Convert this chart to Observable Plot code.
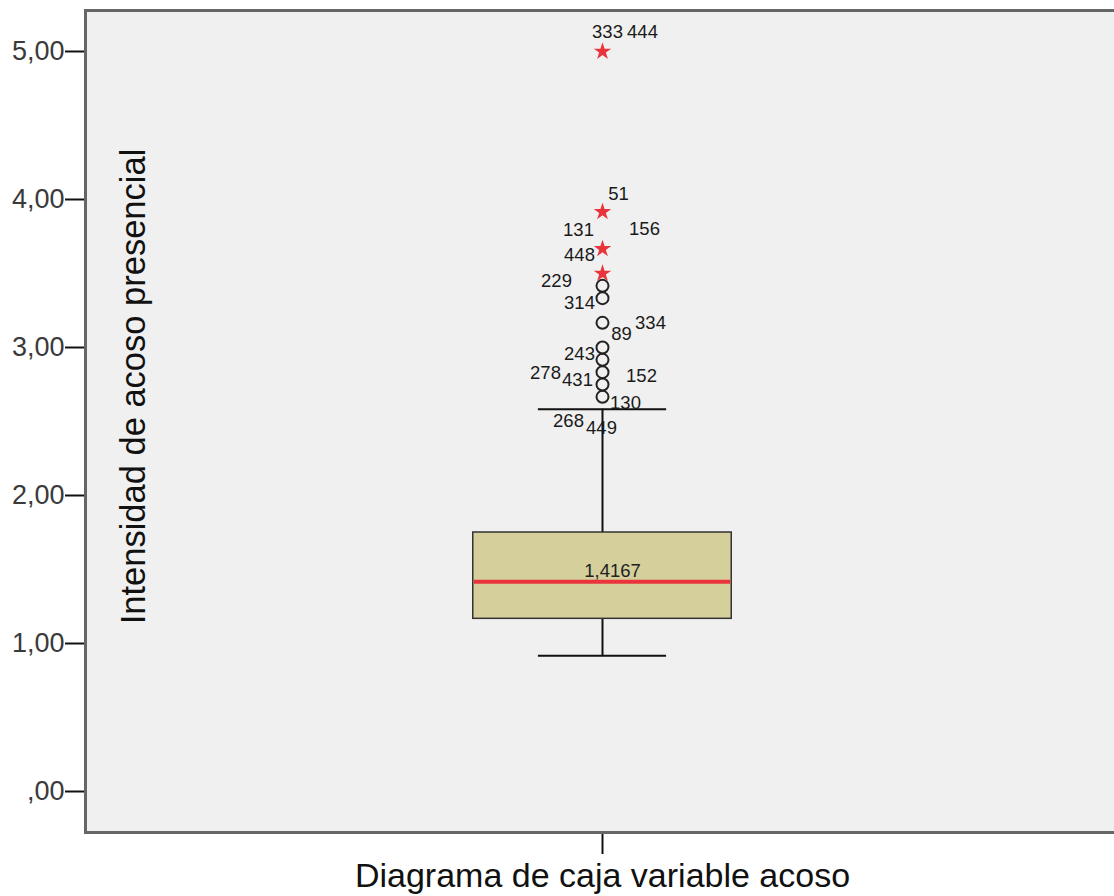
<!DOCTYPE html>
<html>
<head>
<meta charset="utf-8">
<script src="https://cdn.jsdelivr.net/npm/d3@7"></script>
<script src="https://cdn.jsdelivr.net/npm/@observablehq/plot@0.6"></script>
<style>
  html, body { margin: 0; padding: 0; background: #ffffff; }
  #chart svg { display: block; }
</style>
</head>
<body>
<div id="chart"></div>
<script>
// ---- Data ----
const yTitle = "Intensidad de acoso presencial";
const xTitle = "Diagrama de caja variable acoso";
const yTicks = [0, 1, 2, 3, 4, 5];

const q1 = 1.1667;
const median = 1.4167;
const q3 = 1.75;
const whiskerLow = 0.9167;
const whiskerHigh = 2.5833;
const medianLabel = "1,4167";

const outlierValues = [3.4167, 3.3333, 3.1667, 3.0, 2.9167, 2.8333, 2.75, 2.6667];
const extremeValues = [5.0, 3.9167, 3.6667, 3.5];

const caseLabels = ["333", "444", "51", "131", "156", "448", "229", "314", "89", "334", "243", "278", "431", "152", "130", "268", "449"];
const caseValues = [5.0, 5.0, 3.9167, 3.6667, 3.6667, 3.6667, 3.4167, 3.3333, 3.1667, 3.1667, 3.0, 2.8333, 2.8333, 2.8333, 2.6667, 2.5833, 2.5833];

// ---- Layout (label offsets in px, not data) ----
const labelOffsets = [
  [5, -19], [40, -19], [16, -18], [-24, -19], [42, -20], [-23, 6], [-46, -5], [-23, 5],
  [19, 11], [48, 0], [-23, 7], [-57, 1], [-25, 8], [39, 4], [23, 6], [-34, 12], [-1, 19]
];

const font = "'Liberation Sans', Arial, sans-serif";
const boxHalf = 0.25;
const capHalf = 0.124;
const red = "#e8343a";

const fmt = d => d3.format(".2f")(d).replace(".", ",").replace(/^0/, "");

const marks = [
  Plot.frame({fill: "#f0f0f0"}),
  // whiskers
  Plot.ruleX([{a: q3, b: whiskerHigh}, {a: whiskerLow, b: q1}], {x: () => 0, y1: "a", y2: "b", stroke: "#111", strokeWidth: 2}),
  Plot.ruleY([whiskerLow, whiskerHigh], {y: d => d, x1: () => -capHalf, x2: () => capHalf, stroke: "#111", strokeWidth: 2}),
  // box
  Plot.rect([{q1, q3}], {x1: () => -boxHalf, x2: () => boxHalf, y1: "q1", y2: "q3", fill: "#d4cf9b", stroke: "#333", strokeWidth: 1.5}),
  Plot.ruleY([median], {y: d => d, x1: () => -boxHalf + 0.002, x2: () => boxHalf - 0.002, stroke: red, strokeWidth: 4}),
  Plot.text([median], {y: d => d, x: () => 0, text: () => medianLabel, dx: 10, dy: -11, fontSize: 18.5, fill: "#222", fontFamily: font}),
  // outliers
  Plot.dot(outlierValues, {y: d => d, x: () => 0, r: 6, stroke: "#222", strokeWidth: 2, fill: "none"}),
  Plot.dot(extremeValues, {y: d => d, x: () => 0, symbol: "star", r: 5.5, fill: red, stroke: "none"}),
  // case labels
  ...caseLabels.map((lab, i) => Plot.text([caseValues[i]], {
    y: d => d, x: () => 0, text: () => lab,
    dx: labelOffsets[i][0], dy: labelOffsets[i][1],
    fontSize: 18.5, fill: "#1a1a1a", fontFamily: font
  })),
  // axes
  Plot.axisY({ticks: yTicks, tickFormat: fmt, tickSize: 20, tickPadding: 1, fontSize: 27, fill: "#3a3a3a", stroke: "#111", strokeWidth: 2, label: null, fontFamily: font}),
  Plot.axisX({ticks: [0], tickFormat: () => "", tickSize: 22, stroke: "#111", strokeWidth: 2, label: null}),
  // titles
  Plot.text([yTitle], {frameAnchor: "left", textAnchor: "middle", text: d => d, rotate: -90, dx: 48, dy: -35, fontSize: 34.5, fill: "#111", fontFamily: font}),
  Plot.text([xTitle], {frameAnchor: "bottom", x: () => 0, text: d => d, dy: 54, fontSize: 34, fill: "#111", fontFamily: font}),
  Plot.frame({stroke: "#666", strokeWidth: 3})
];

const chart = Plot.plot({
  width: 1114,
  height: 896,
  marginLeft: 85,
  marginRight: -5,
  marginTop: 10,
  marginBottom: 64,
  style: {background: "#ffffff", fontFamily: font, overflow: "hidden"},
  x: {domain: [-1, 1], axis: null},
  y: {domain: [-0.277, 5.277], axis: null},
  marks
});
document.getElementById("chart").appendChild(chart);
</script>
</body>
</html>
